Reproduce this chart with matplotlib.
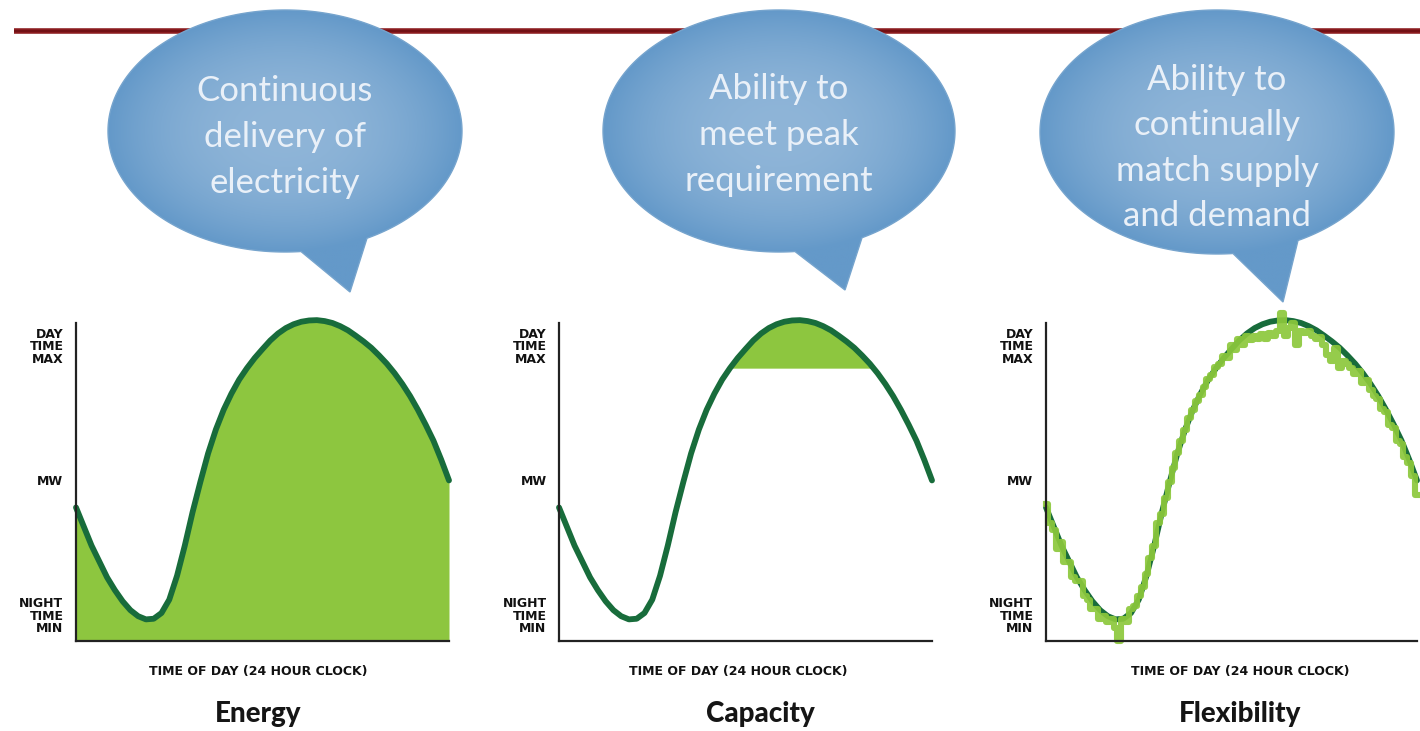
import numpy as np
import matplotlib.pyplot as plt
from matplotlib.path import Path
from matplotlib.patches import PathPatch

# normalised system demand, half-hourly from midnight to midnight
demand = [0.42, 0.36, 0.30, 0.25, 0.20, 0.16, 0.125, 0.097, 0.078, 0.068,
          0.07, 0.088, 0.13, 0.205, 0.30, 0.405, 0.50, 0.59, 0.665, 0.727,
          0.778, 0.822, 0.858, 0.89, 0.918, 0.945, 0.967, 0.984, 0.996, 1.004,
          1.008, 1.009, 1.006, 1.0, 0.99, 0.977, 0.96, 0.942, 0.922, 0.898,
          0.872, 0.842, 0.808, 0.77, 0.727, 0.68, 0.63, 0.57, 0.505]

# supply following the demand, quarter-hourly
supply = [0.43, 0.37, 0.35, 0.29,
          0.31, 0.25, 0.25, 0.20,
          0.19, 0.19, 0.14, 0.13,
          0.10, 0.10, 0.07, 0.08,
          0.06, 0.07, 0.04, 0.00,
          0.07, 0.06, 0.10, 0.11,
          0.14, 0.17, 0.21, 0.26,
          0.30, 0.37, 0.40, 0.45,
          0.50, 0.545, 0.59, 0.63,
          0.665, 0.70, 0.725, 0.755,
          0.775, 0.80, 0.825, 0.838,
          0.862, 0.87, 0.895, 0.89,
          0.93, 0.915, 0.95, 0.93,
          0.96, 0.945, 0.96, 0.95,
          0.965, 0.95, 0.97, 0.96,
          0.975, 1.03, 0.96, 0.985,
          1.0, 0.93, 0.975, 0.97,
          0.975, 0.96, 0.95, 0.955,
          0.93, 0.90, 0.88, 0.92,
          0.86, 0.88, 0.87, 0.86,
          0.84, 0.85, 0.81, 0.82,
          0.79, 0.77, 0.76, 0.73,
          0.72, 0.68, 0.67, 0.63,
          0.62, 0.58, 0.56, 0.52,
          0.46]

peak_level = 0.858

tick_vals = [0.082, 0.506, 0.93]
tick_labels = ["NIGHT\nTIME\nMIN", "MW", "DAY\nTIME\nMAX"]

titles = ["Energy", "Capacity", "Flexibility"]
xlabel = "TIME OF DAY (24 HOUR CLOCK)"
bubble_texts = ["Continuous\ndelivery of\nelectricity",
                "Ability to\nmeet peak\nrequirement",
                "Ability to\ncontinually\nmatch supply\nand demand"]

hours = np.linspace(0, 24, len(demand))
hours_q = np.linspace(0, 24, len(supply))

W, H = 1420, 731
fig = plt.figure(figsize=(W / 100, H / 100), dpi=100)

FILL = "#8dc63f"
LINE = "#186c3b"
LIGHT = "#8cc83c"

# panel geometry in pixels: left, right
panels = [(76, 449), (559, 932), (1046, 1417)]
ax_top, ax_bot = 323, 641
xlabel_x = [258, 738, 1240]
title_x = [258, 760, 1240]

axes = []
for (l, r) in panels:
    ax = fig.add_axes([l / W, (H - ax_bot) / H, (r - l) / W, (ax_bot - ax_top) / H])
    ax.set_xlim(0, 24)
    ax.set_ylim(0, 1)
    for s in ["top", "right"]:
        ax.spines[s].set_visible(False)
    for s in ["left", "bottom"]:
        ax.spines[s].set_color("#222222")
        ax.spines[s].set_linewidth(1.6)
    ax.set_xticks([])
    ax.set_yticks(tick_vals)
    ax.set_yticklabels(tick_labels, fontsize=9, fontweight="bold",
                       family="DejaVu Sans", color="#111111")
    for lab in ax.get_yticklabels():
        lab.set_linespacing(0.95)
        lab.set_multialignment("right")
    ax.tick_params(axis="y", length=0, pad=9)
    ax.patch.set_alpha(0)
    axes.append(ax)

# Energy: everything under the curve
ax = axes[0]
ax.fill_between(hours, demand, 0, color=FILL, lw=0)
ax.plot(hours, demand, color=LINE, lw=4.2, clip_on=False, solid_capstyle="round",
        solid_joinstyle="round")

# Capacity: only the slice above the peak level
ax = axes[1]
d = np.array(demand)
ax.fill_between(hours, d, peak_level, where=d >= peak_level, interpolate=True,
                color=FILL, lw=0)
ax.plot(hours, demand, color=LINE, lw=4.2, clip_on=False, solid_capstyle="round",
        solid_joinstyle="round")

# Flexibility: supply tracking demand
ax = axes[2]
ax.plot(hours, demand, color=LINE, lw=4.2, clip_on=False, solid_capstyle="round",
        solid_joinstyle="round")
ax.plot(hours_q, supply, color=LIGHT, lw=4.4, drawstyle="steps-mid",
        clip_on=False, alpha=0.92)

for i in range(3):
    fig.text(xlabel_x[i] / W, (H - 672) / H, xlabel, ha="center", va="center",
             fontsize=9, fontweight="bold", color="#111111")
    fig.text(title_x[i] / W, (H - 714) / H, titles[i], ha="center", va="center",
             fontsize=20, fontweight="black", family="Lato", color="#151515")

# overlay in pixel coordinates for the rule and the speech bubbles
ov = fig.add_axes([0, 0, 1, 1], zorder=5)
ov.set_xlim(0, W)
ov.set_ylim(H, 0)
ov.axis("off")
ov.patch.set_alpha(0)

ov.plot([14, W], [30.5, 30.5], color="#8a1b1e", lw=4, solid_capstyle="butt", zorder=1)
ov.plot([14, W], [30.5, 30.5], color="#6e1014", lw=1.2, solid_capstyle="butt", zorder=1)

# centre x, centre y, semi-axes, tail base x (right, left), tail tip
bubbles = [
    (285, 131, 177, 121, 367, 301, (350, 292)),
    (779, 131, 176, 121, 862, 795, (845, 290)),
    (1217, 132, 177, 122, 1298, 1233, (1283, 302)),
]
text_y = [137, 135, 148]

c_in = np.array([143, 181, 216]) / 255
c_out = np.array([100, 153, 201]) / 255

for k, (cx, cy, a, b, xr, xl, tip) in enumerate(bubbles):
    t_r = np.arccos((xr - cx) / a)
    t_l = np.arccos((xl - cx) / a)
    t1 = np.linspace(0, t_r, 60)
    t2 = np.linspace(t_l, 2 * np.pi, 300)
    pts = [(cx + a * np.cos(t), cy + b * np.sin(t)) for t in t1]
    pts.append(tip)
    pts += [(cx + a * np.cos(t), cy + b * np.sin(t)) for t in t2]
    verts = np.array(pts + [pts[0]])
    codes = [Path.MOVETO] + [Path.LINETO] * (len(verts) - 2) + [Path.CLOSEPOLY]
    patch = PathPatch(Path(verts, codes), facecolor="none", edgecolor="#76a4cd",
                      lw=1.0, zorder=3)
    ov.add_patch(patch)

    x0, x1 = cx - a - 2, cx + a + 2
    y0, y1 = cy - b - 2, tip[1] + 2
    gx, gy = np.meshgrid(np.linspace(x0, x1, 200), np.linspace(y0, y1, 200))
    rr = np.sqrt(((gx - cx) / a) ** 2 + ((gy - cy) / b) ** 2)
    rr = np.clip(rr, 0, 1) ** 2.2
    img = c_in[None, None, :] * (1 - rr[..., None]) + c_out[None, None, :] * rr[..., None]
    im = ov.imshow(img, extent=(x0, x1, y1, y0), origin="upper",
                   interpolation="bilinear", zorder=2, aspect="auto")
    im.set_clip_path(patch)

    ov.text(cx, text_y[k], bubble_texts[k], ha="center", va="center",
            fontsize=25, family="Lato", color="#e9f0f8", linespacing=1.52, zorder=4)

ov.set_xlim(0, W)
ov.set_ylim(H, 0)

fig.savefig("out.png", dpi=100, facecolor="white")
